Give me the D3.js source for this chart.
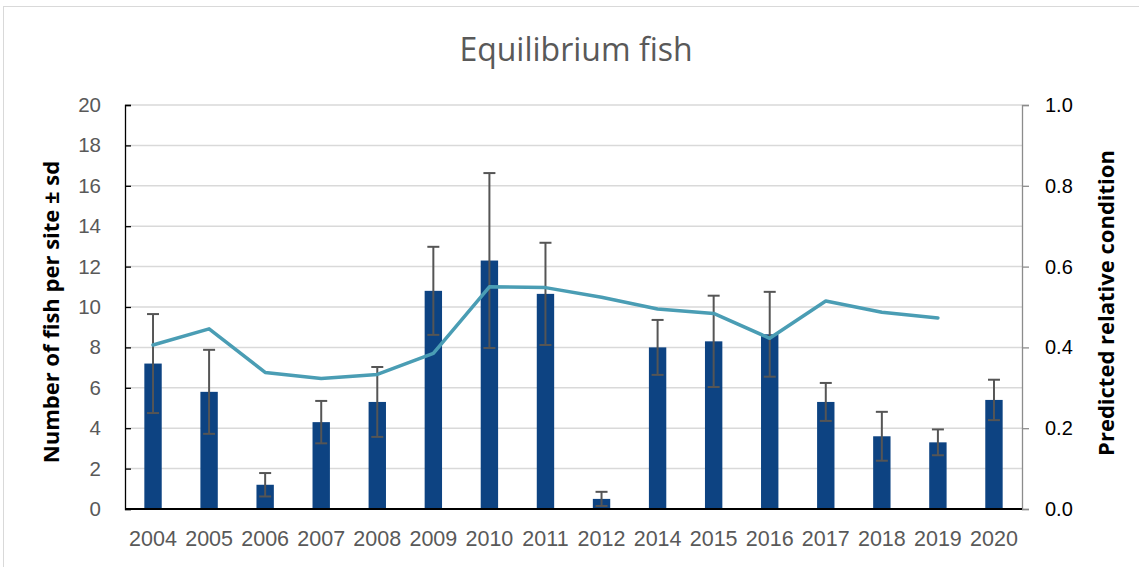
<!DOCTYPE html>
<html>
<head>
<meta charset="utf-8">
<script src="https://cdn.jsdelivr.net/npm/d3@7"></script>
<style>
  body { margin: 0; background: #fff; }
  svg { display: block; font-family: "Open Sans", sans-serif; }
  .title { font-size: 32px; fill: #595959; }
  .tick-l { font-size: 20.5px; fill: #595959; }
  .tick-r { font-size: 20px; fill: #000; }
  .tick-x { font-size: 21.5px; fill: #595959; }
  .label { font-size: 22px; font-weight: bold; fill: #000; }
</style>
</head>
<body>
<svg id="chart" width="1139" height="567"></svg>
<script>
// years on the x axis
const years = ["2004","2005","2006","2007","2008","2009","2010","2011","2012","2014","2015","2016","2017","2018","2019","2020"]
// mean number of fish per site
const fishMean = [7.2, 5.8, 1.2, 4.3, 5.3, 10.8, 12.3, 10.65, 0.5, 8.0, 8.3, 8.65, 5.3, 3.6, 3.3, 5.4]
// standard deviation
const fishSd = [2.45, 2.08, 0.58, 1.05, 1.73, 2.18, 4.33, 2.53, 0.35, 1.36, 2.26, 2.1, 0.94, 1.21, 0.64, 1.0]
// predicted relative condition (no value for 2020)
const condition = [0.406, 0.446, 0.338, 0.323, 0.333, 0.385, 0.550, 0.548, 0.524, 0.495, 0.484, 0.4225, 0.515, 0.487, 0.473, null]
// tick labels
const leftTicks = [0, 2, 4, 6, 8, 10, 12, 14, 16, 18, 20]
const rightTicks = [0, 0.2, 0.4, 0.6, 0.8, 1.0]

const plotLeft = 125, plotRight = 1022, plotTop = 105, plotBottom = 509

const svg = d3.select("#chart")

// chart frame
svg.append("rect")
    .attr("x", 3.5).attr("y", 6.5)
    .attr("width", 1150).attr("height", 580)
    .attr("fill", "#fff").attr("stroke", "#d9d9d9")

const xScale = d3.scaleBand().domain(years)
    .range([plotLeft, plotRight])
    .paddingInner(0.69).paddingOuter(0.345)
const yScale = d3.scaleLinear().domain([0, 20]).range([plotBottom, plotTop])
const y2Scale = d3.scaleLinear().domain([0, 1]).range([plotBottom, plotTop])

// gridlines
svg.append("g")
    .selectAll("line")
    .data(leftTicks.filter(d => d > 0))
    .join("line")
    .attr("x1", plotLeft).attr("x2", plotRight)
    .attr("y1", d => yScale(d)).attr("y2", d => yScale(d))
    .attr("stroke", "#d9d9d9").attr("stroke-width", 1.5)

// bars
svg.append("g")
    .selectAll("rect")
    .data(years)
    .join("rect")
    .attr("x", d => xScale(d))
    .attr("width", xScale.bandwidth())
    .attr("y", (d, i) => yScale(fishMean[i]))
    .attr("height", (d, i) => plotBottom - yScale(fishMean[i]))
    .attr("fill", "#0d4382")

// error bars
const err = svg.append("g").attr("stroke", "#555").attr("stroke-width", 2)
years.forEach((d, i) => {
    const cx = xScale(d) + xScale.bandwidth() / 2
    const hi = yScale(fishMean[i] + fishSd[i])
    const lo = yScale(Math.max(0, fishMean[i] - fishSd[i]))
    err.append("line").attr("x1", cx).attr("x2", cx).attr("y1", hi).attr("y2", lo)
    err.append("line").attr("x1", cx - 6).attr("x2", cx + 6).attr("y1", hi).attr("y2", hi)
    err.append("line").attr("x1", cx - 6).attr("x2", cx + 6).attr("y1", lo).attr("y2", lo)
})

// condition line
const line = d3.line()
    .defined(d => d[1] != null)
    .x(d => xScale(d[0]) + xScale.bandwidth() / 2)
    .y(d => y2Scale(d[1]))
svg.append("path")
    .datum(years.map((d, i) => [d, condition[i]]))
    .attr("d", line)
    .attr("fill", "none")
    .attr("stroke", "#4a9db4")
    .attr("stroke-width", 3.5)
    .attr("stroke-linecap", "round")
    .attr("stroke-linejoin", "round")

// left axis
const yAxis = d3.axisLeft(yScale).tickValues(leftTicks).tickSize(-6).tickPadding(24).tickFormat(d3.format("d"))
const gy = svg.append("g").attr("transform", `translate(${plotLeft},0)`).call(yAxis)
gy.select(".domain").attr("stroke", "#000").attr("stroke-width", 1.3)
gy.selectAll(".tick line").attr("stroke", "#000").attr("stroke-width", 1.3)
gy.selectAll(".tick text").attr("class", "tick-l").attr("fill", null).attr("font-family", null).attr("font-size", null)

// right axis
const y2Axis = d3.axisRight(y2Scale).tickValues(rightTicks).tickSize(7).tickPadding(16).tickFormat(d3.format(".1f"))
const gy2 = svg.append("g").attr("transform", `translate(${plotRight},0)`).call(y2Axis)
gy2.select(".domain").attr("stroke", "#8c8c8c").attr("stroke-width", 1.3)
gy2.selectAll(".tick line").attr("stroke", "#8c8c8c").attr("stroke-width", 1.3)
gy2.selectAll(".tick text").attr("class", "tick-r").attr("fill", null).attr("font-family", null).attr("font-size", null)

// bottom axis
const xAxis = d3.axisBottom(xScale).tickSize(0).tickPadding(22)
const gx = svg.append("g").attr("transform", `translate(0,${plotBottom})`).call(xAxis)
gx.select(".domain").attr("stroke", "#000").attr("stroke-width", 2.2)
    .attr("d", `M${plotLeft},0H${plotRight}`)
gx.selectAll(".tick text").attr("class", "tick-x").attr("fill", null).attr("font-family", null).attr("font-size", null)

// title
svg.append("text")
    .attr("class", "title")
    .attr("x", 576).attr("y", 61)
    .attr("text-anchor", "middle")
    .text("Equilibrium fish")

// axis labels
svg.append("text")
    .attr("class", "label")
    .attr("transform", `translate(59,312) rotate(-90)`)
    .attr("text-anchor", "middle")
    .text("Number of fish per site ± sd")

svg.append("text")
    .attr("class", "label")
    .attr("transform", `translate(1114,303) rotate(-90)`)
    .attr("text-anchor", "middle")
    .text("Predicted relative condition")
</script>
</body>
</html>
